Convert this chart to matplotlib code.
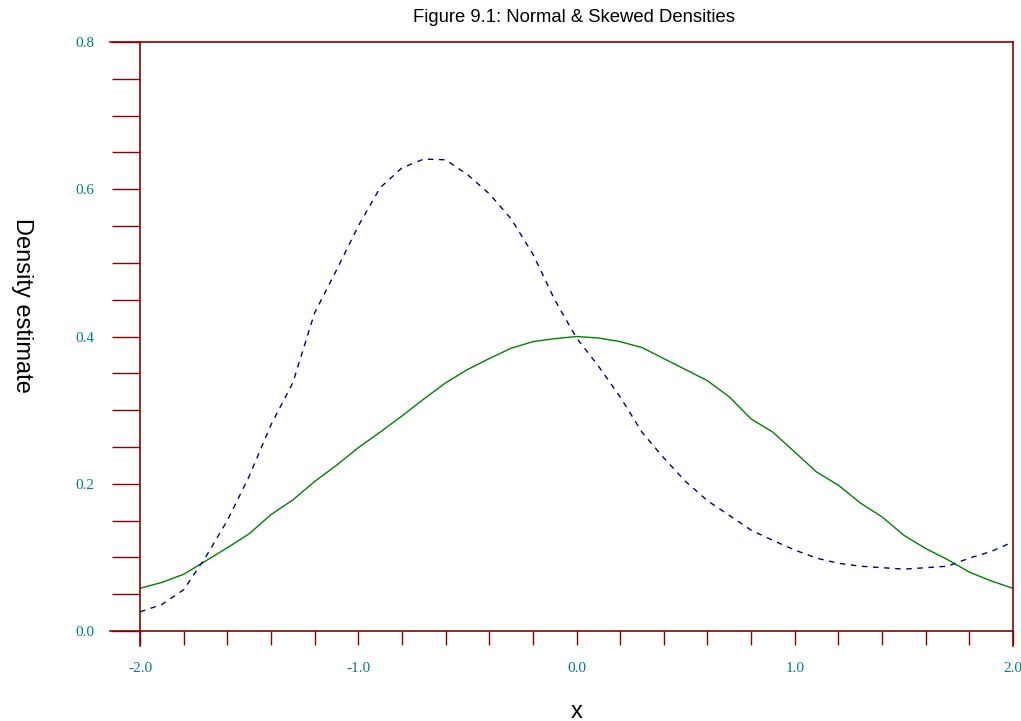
import numpy as np
import matplotlib.pyplot as plt
from matplotlib.ticker import MultipleLocator

# values
x_vals = [-2.0, -1.9, -1.8, -1.7, -1.6, -1.5, -1.4, -1.3, -1.2, -1.1, -1.0,
          -0.9, -0.8, -0.7, -0.6, -0.5, -0.4, -0.3, -0.2, -0.1, 0.0,
          0.1, 0.2, 0.3, 0.4, 0.5, 0.6, 0.7, 0.8, 0.9, 1.0,
          1.1, 1.2, 1.3, 1.4, 1.5, 1.6, 1.7, 1.8, 1.9, 2.0]
normal_dens = [0.058, 0.066, 0.077, 0.095, 0.113, 0.132, 0.158, 0.178, 0.203, 0.225, 0.249,
               0.270, 0.292, 0.315, 0.337, 0.355, 0.370, 0.384, 0.393, 0.397, 0.400,
               0.398, 0.393, 0.385, 0.370, 0.355, 0.340, 0.318, 0.288, 0.270, 0.243,
               0.216, 0.198, 0.174, 0.155, 0.130, 0.112, 0.097, 0.080, 0.068, 0.058]
skewed_dens = [0.026, 0.036, 0.056, 0.100, 0.150, 0.210, 0.280, 0.337, 0.432, 0.490, 0.550,
               0.602, 0.629, 0.641, 0.640, 0.620, 0.594, 0.560, 0.512, 0.450, 0.398,
               0.360, 0.318, 0.270, 0.235, 0.203, 0.177, 0.157, 0.137, 0.123, 0.110,
               0.099, 0.092, 0.088, 0.086, 0.084, 0.086, 0.088, 0.099, 0.108, 0.121]

axis_col = '#8b0000'
lab_col = '#008080'

fig = plt.figure(figsize=(10.21, 7.21), dpi=100)
ax = fig.add_axes([140/1021, 1-631/721, 873/1021, 589/721])

ax.plot(x_vals, normal_dens, color='#008000', lw=1.0)
ax.plot(x_vals, skewed_dens, color='#000080', lw=1.0, dashes=(4, 4))

ax.set_xlim(-2, 2)
ax.set_ylim(0, 0.8)

for s in ax.spines.values():
    s.set_visible(False)

# axis lines, drawn a bit past the box like the original
ext_x = 30/873
ext_y = 15/589
kw = dict(transform=ax.transAxes, clip_on=False, color=axis_col, lw=1.2)
ax.plot([0, 0], [-ext_y, 1], **kw)
ax.plot([1, 1], [-ext_y, 1], **kw)
ax.plot([-ext_x, 1], [0, 0], **kw)
ax.plot([-ext_x, 1], [1, 1], **kw)

ax.xaxis.set_major_locator(MultipleLocator(1.0))
ax.xaxis.set_minor_locator(MultipleLocator(0.2))
ax.yaxis.set_major_locator(MultipleLocator(0.2))
ax.yaxis.set_minor_locator(MultipleLocator(0.05))
ax.xaxis.set_major_formatter(lambda v, p: f"{v:.1f}")
ax.yaxis.set_major_formatter(lambda v, p: f"{v:.1f}")

ax.tick_params(axis='x', which='both', direction='out', length=10, width=1,
               color=axis_col, labelcolor=lab_col, pad=12)
ax.tick_params(axis='y', which='both', direction='out', length=20, width=1,
               color=axis_col, labelcolor=lab_col, pad=13)
for t in ax.get_xticklabels() + ax.get_yticklabels():
    t.set_fontfamily('Liberation Serif')
    t.set_fontsize(11)

fig.text(574/1021, 1-18/721, "Figure 9.1: Normal & Skewed Densities",
         ha='center', va='center', fontsize=13.3, family='Liberation Sans')
fig.text(577/1021, 1-712/721, "x", ha='center', va='center',
         fontsize=17, family='Liberation Sans')
fig.text(22/1021, 1-305/721, "Density estimate", ha='center', va='center',
         rotation=270, fontsize=17, family='Liberation Sans')

fig.savefig('out.png', dpi=100)
